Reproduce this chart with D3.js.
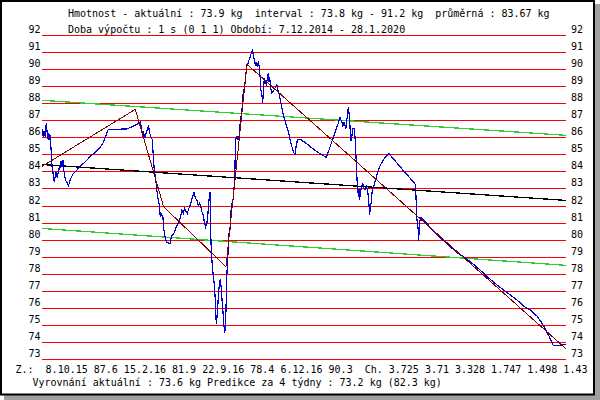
<!DOCTYPE html>
<html>
<head>
<meta charset="utf-8">
<script src="https://cdn.jsdelivr.net/npm/d3@7"></script>
<style>
  body { margin: 0; background: #fff; }
  text { font-family: "DejaVu Sans Mono", monospace; font-size: 10px; fill: #000; white-space: pre; }
</style>
</head>
<body>
<script>
// Period shown on the x axis
var periodStart = "2014-12-07",
    periodEnd = "2020-01-28";

// Weight measurements (time as decimal year, value in kg)
var weightYears = [
  2014.934, 2014.944, 2014.953, 2014.963, 2014.973, 2014.983, 2014.993, 2014.999, 2015.006, 2015.012,
  2015.019, 2015.025, 2015.032, 2015.038, 2015.045, 2015.052, 2015.061, 2015.071, 2015.078, 2015.088,
  2015.097, 2015.104, 2015.110, 2015.120, 2015.130, 2015.137, 2015.143, 2015.153, 2015.163, 2015.176,
  2015.192, 2015.209, 2015.235, 2015.290, 2015.356, 2015.421, 2015.487, 2015.529, 2015.555, 2015.582,
  2015.765, 2015.856, 2015.896, 2015.909, 2015.919, 2015.929, 2015.942, 2015.955, 2015.968, 2015.977,
  2015.987, 2016.000, 2016.013, 2016.023, 2016.033, 2016.046, 2016.056, 2016.069, 2016.082, 2016.092,
  2016.102, 2016.118, 2016.128, 2016.138, 2016.151, 2016.167, 2016.190, 2016.200, 2016.223, 2016.249,
  2016.269, 2016.288, 2016.305, 2016.318, 2016.331, 2016.344, 2016.357, 2016.373, 2016.393, 2016.409,
  2016.422, 2016.439, 2016.452, 2016.465, 2016.478, 2016.491, 2016.501, 2016.514, 2016.524, 2016.537,
  2016.550, 2016.560, 2016.573, 2016.580, 2016.586,
  2016.593, 2016.603, 2016.613, 2016.623, 2016.632, 2016.642, 2016.652, 2016.662, 2016.672, 2016.681,
  2016.691, 2016.701, 2016.711, 2016.717, 2016.724, 2016.730, 2016.737, 2016.743, 2016.750, 2016.757,
  2016.766, 2016.776, 2016.786, 2016.796, 2016.809, 2016.815, 2016.822,
  2016.829, 2016.835, 2016.845, 2016.855, 2016.865, 2016.874, 2016.884, 2016.894, 2016.904, 2016.914,
  2016.923, 2016.933, 2016.943, 2016.953, 2016.963, 2016.976, 2016.986, 2016.999, 2017.005, 2017.015,
  2017.025, 2017.035, 2017.044, 2017.054, 2017.064, 2017.074, 2017.080, 2017.090, 2017.097, 2017.103,
  2017.113, 2017.123, 2017.133, 2017.143, 2017.152, 2017.159, 2017.165, 2017.175, 2017.185, 2017.198,
  2017.211, 2017.224, 2017.237, 2017.247, 2017.260, 2017.277, 2017.296, 2017.323, 2017.349, 2017.375,
  2017.398, 2017.414, 2017.427, 2017.440, 2017.466, 2017.516, 2017.565, 2017.630, 2017.682, 2017.722,
  2017.748, 2017.781, 2017.810, 2017.836, 2017.856, 2017.872, 2017.885, 2017.898, 2017.912, 2017.925,
  2017.938, 2017.948, 2017.957, 2017.964, 2017.974, 2017.984, 2017.997, 2018.006, 2018.013, 2018.019,
  2018.023,
  2018.029, 2018.036, 2018.042, 2018.049, 2018.055, 2018.065, 2018.078, 2018.088, 2018.101, 2018.114,
  2018.127, 2018.137, 2018.147, 2018.154, 2018.163, 2018.173, 2018.186, 2018.206, 2018.226, 2018.252,
  2018.291, 2018.334, 2018.376, 2018.432, 2018.487, 2018.546, 2018.595, 2018.602, 2018.608, 2018.618,
  2018.625, 2018.628, 2018.635, 2018.641, 2018.651, 2018.693, 2018.743, 2018.808, 2018.873, 2018.939,
  2019.004, 2019.070, 2019.135, 2019.201, 2019.266, 2019.331, 2019.397, 2019.462, 2019.528, 2019.593,
  2019.659, 2019.724, 2019.789, 2019.829, 2019.862, 2019.888, 2019.911, 2019.927, 2019.947, 2020.018,
  2020.077
];
var weightValues = [
  86.46, 86.03, 86.38, 86.03, 86.81, 86.22, 85.83, 86.22, 85.83, 86.13,
  85.44, 84.76, 84.18, 83.98, 83.59, 83.40, 83.69, 83.98, 83.65, 83.88,
  84.08, 84.37, 84.18, 84.62, 84.27, 84.66, 84.18, 83.79, 83.49, 83.34,
  83.16, 83.53, 83.84, 84.18, 84.57, 84.96, 85.29, 85.64, 86.03, 86.46,
  86.48, 86.73, 86.89, 86.52, 86.03, 86.26, 85.99, 86.26, 86.52, 86.65,
  86.26, 86.03, 85.87, 84.96, 84.08, 83.65, 83.00, 82.42, 82.03, 81.39,
  81.50, 81.35, 80.57, 80.18, 79.88, 79.82, 79.79, 80.18, 80.33, 80.76,
  81.00, 81.25, 81.74, 81.54, 81.83, 81.64, 81.54, 81.83, 82.13, 82.52,
  82.77, 82.42, 82.32, 82.03, 82.13, 81.93, 81.64, 81.44, 81.05, 80.76,
  80.96, 81.54, 82.52, 82.81, 80.57,
  79.39, 78.42, 77.83, 77.35, 76.47, 75.06, 75.69, 76.66, 77.44, 77.68,
  77.15, 76.27, 75.49, 75.00, 74.52, 74.91, 75.88, 77.64, 78.42, 79.20,
  80.37, 80.57, 81.64, 82.13, 82.42, 82.91, 83.49,
  85.25, 85.93, 86.03, 85.87, 86.03, 86.71, 87.16, 87.59, 88.47, 88.80,
  89.15, 89.74, 90.17, 90.32, 90.52, 90.71, 90.95, 91.14, 90.75, 90.52,
  90.23, 90.42, 90.13, 90.36, 90.13, 89.35, 88.76, 88.47, 88.02, 88.57,
  89.45, 89.25, 89.11, 89.39, 89.74, 89.25, 89.54, 88.96, 88.57, 88.66,
  88.80, 88.96, 89.06, 88.76, 88.47, 87.98, 87.40, 86.81, 86.32, 85.64,
  85.15, 84.96, 85.54, 85.87, 85.87, 85.68, 85.44, 85.15, 84.96, 84.82,
  85.25, 85.84, 86.32, 86.77, 87.16, 86.91, 86.65, 86.91, 86.46, 87.10,
  87.75, 87.20, 86.32, 85.80, 86.13, 86.52, 86.52, 85.74, 84.86, 84.08,
  83.49,
  83.20, 82.52, 82.95, 82.32, 82.75, 83.00, 83.34, 83.06, 82.91, 83.14,
  82.87, 82.32, 81.44, 81.93, 82.22, 82.95, 83.10, 83.53, 83.98, 84.37,
  84.76, 85.05, 84.76, 84.37, 83.98, 83.59, 83.24, 82.52, 81.35, 80.86,
  80.47, 79.94, 80.86, 81.11, 81.29, 81.05, 80.72, 80.27, 79.94, 79.59,
  79.24, 79.00, 78.71, 78.38, 78.03, 77.68, 77.35, 77.05, 76.76, 76.47,
  76.11, 75.88, 75.53, 75.20, 74.87, 74.55, 74.32, 74.09, 73.83, 73.83,
  73.89
];

// Piecewise smoothing (dark red) vertices
var smoothYears = [2014.934, 2015.847, 2016.125, 2016.737, 2016.943, 2020.077];
var smoothValues = [84.3, 87.63, 81.93, 78.42, 90.27, 73.6];

// Linear trend (black) and its band (green), at period start and end
var trendValues = [84.40, 82.30];
var bandUpper = [88.16, 86.11];
var bandLower = [80.66, 78.50];

// Y tick values
var yTicks = d3.range(73, 93);

// Texts of the header and footer
var breakDates = ["8.10.15", "15.2.16", "22.9.16", "6.12.16"];
var breakValues = ["87.6", "81.9", "78.4", "90.3"];
var changeValues = ["3.725", "3.71", "3.328", "1.747", "1.498", "1.43"];
var headerLine1 = "Hmotnost - aktuální : 73.9 kg  interval : 73.8 kg - 91.2 kg  průměrná : 83.67 kg";
var headerLine2 = "Doba výpočtu : 1 s (0 1 1) Období: 7.12.2014 - 28.1.2020";
var footerLine2 = "Vyrovnání aktuální : 73.6 kg Predikce za 4 týdny : 73.2 kg (82.3 kg)";

var width = 600,
    height = 400;

function toYear(s) {
    var d = new Date(s + "T00:00:00Z");
    var y = d.getUTCFullYear();
    var a = Date.UTC(y, 0, 1), b = Date.UTC(y + 1, 0, 1);
    return y + (d - a) / (b - a);
}

var x = d3.scaleLinear()
    .domain([toYear(periodStart), toYear(periodEnd)])
    .range([42, 566]);

var y = d3.scaleLinear()
    .domain([73, 92])
    .range([359.3, 34.7]);

var svg = d3.select("body")
    .append("svg")
    .attr("width", width)
    .attr("height", height);

// Frame with shadow
svg.append("rect")
    .attr("x", 4).attr("y", 4)
    .attr("width", width - 4).attr("height", height - 4)
    .attr("fill", "#a0a0a0");
svg.append("rect")
    .attr("x", 1).attr("y", 1)
    .attr("width", 593).attr("height", 393.5)
    .attr("fill", "#fff")
    .attr("stroke", "#000")
    .attr("stroke-width", 2);

// Horizontal grid lines with labels on both sides
svg.selectAll(".grid")
    .data(yTicks)
    .enter()
    .append("line")
    .attr("class", "grid")
    .attr("x1", x.range()[0])
    .attr("x2", x.range()[1])
    .attr("y1", d => Math.round(y(d)) + 0.5)
    .attr("y2", d => Math.round(y(d)) + 0.5)
    .attr("stroke", "#ff0000")
    .attr("stroke-width", 1.2)
    .attr("shape-rendering", "crispEdges");

svg.selectAll(".lab-l")
    .data(yTicks)
    .enter()
    .append("text")
    .attr("x", 40.5)
    .attr("y", d => y(d) - 2)
    .attr("text-anchor", "end")
    .text(d => d);

svg.selectAll(".lab-r")
    .data(yTicks)
    .enter()
    .append("text")
    .attr("x", 571)
    .attr("y", d => y(d) - 2)
    .text(d => d);

var line = d3.line()
    .x(d => x(d[0]))
    .y(d => y(d[1]));

var ends = x.domain();

function drawLine(years, values, color, w) {
    svg.append("path")
        .datum(d3.zip(years, values))
        .attr("d", line)
        .attr("fill", "none")
        .attr("stroke", color)
        .attr("stroke-width", w)
        .attr("shape-rendering", "crispEdges");
}

drawLine(ends, bandUpper, "#33cc33", 1.3);
drawLine(ends, bandLower, "#33cc33", 1.3);
drawLine(ends, trendValues, "#000", 1.3);
drawLine(weightYears, weightValues, "#0000cc", 1.2);
drawLine(smoothYears, smoothValues, "#800000", 1);

// Header and footer texts
var footerLine1 = "Z.:  " +
    breakDates.map((d, i) => d + " " + breakValues[i]).join(" ") +
    "  Ch. " + changeValues.join(" ");

svg.append("text").attr("x", 68).attr("y", 17.3).text(headerLine1);
svg.append("text").attr("x", 68).attr("y", 32.6).text(headerLine2);
svg.append("text").attr("x", 15.5).attr("y", 372.6).text(footerLine1);
svg.append("text").attr("x", 32.5).attr("y", 386).text(footerLine2);
</script>
</body>
</html>
